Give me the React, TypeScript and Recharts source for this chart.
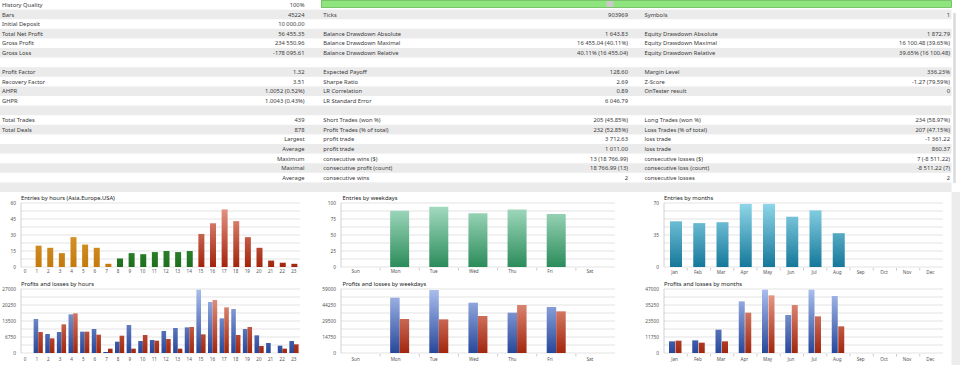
import React from 'react';
import { BarChart, Bar, XAxis, YAxis, CartesianGrid, Cell } from 'recharts';

const F = '"Noto Sans", "Open Sans", sans-serif';

// ---------- table data ----------
const leftLabels = ['History Quality', 'Bars', 'Initial Deposit', 'Total Net Profit', 'Gross Profit', 'Gross Loss', '', 'Profit Factor', 'Recovery Factor', 'AHPR', 'GHPR', '', 'Total Trades', 'Total Deals', '', '', '', '', '', ''];
const leftValues = ['100%', '45224', '10 000.00', '56 455.35', '234 550.96', '-178 095.61', '', '1.32', '3.51', '1.0052 (0.52%)', '1.0043 (0.43%)', '', '439', '878', 'Largest', 'Average', 'Maximum', 'Maximal', 'Average', ''];
const midLabels = ['', 'Ticks', '', 'Balance Drawdown Absolute', 'Balance Drawdown Maximal', 'Balance Drawdown Relative', '', 'Expected Payoff', 'Sharpe Ratio', 'LR Correlation', 'LR Standard Error', '', 'Short Trades (won %)', 'Profit Trades (% of total)', 'profit trade', 'profit trade', 'consecutive wins ($)', 'consecutive profit (count)', 'consecutive wins', ''];
const midValues = ['', '903969', '', '1 643.83', '16 455.04 (40.11%)', '40.11% (16 455.04)', '', '128.60', '2.69', '0.89', '6 046.79', '', '205 (45.85%)', '232 (52.85%)', '3 712.63', '1 011.00', '13 (18 766.99)', '18 766.99 (13)', '2', ''];
const rightLabels = ['', 'Symbols', '', 'Equity Drawdown Absolute', 'Equity Drawdown Maximal', 'Equity Drawdown Relative', '', 'Margin Level', 'Z-Score', 'OnTester result', '', '', 'Long Trades (won %)', 'Loss Trades (% of total)', 'loss trade', 'loss trade', 'consecutive losses ($)', 'consecutive loss (count)', 'consecutive losses', ''];
const rightValues = ['', '1', '', '1 872.79', '16 100.48 (39.65%)', '39.65% (16 100.48)', '', '336.23%', '-1.27 (79.59%)', '0', '', '', '234 (58.97%)', '207 (47.15%)', '-1 361.22', '860.37', '7 (-8 511.22)', '-8 511.22 (7)', '2', ''];

// ---------- chart data ----------
const hours = ['0', '1', '2', '3', '4', '5', '6', '7', '8', '9', '10', '11', '12', '13', '14', '15', '16', '17', '18', '19', '20', '21', '22', '23'];
const hourEntries = [0, 20, 18, 13, 28, 21, 18, 3, 8, 13, 12, 14, 15, 14, 15, 31, 41, 54, 43, 28, 18, 6, 4, 3];
const hourProfits = [0, 14340, 8010, 8860, 16310, 9000, 10120, 420, 4780, 11810, 5060, 5480, 9280, 10550, 10830, 26710, 21510, 14620, 18560, 10120, 7450, 4220, 3090, 5060];
const hourLosses = [0, 8860, 6190, 12090, 16730, 9000, 7730, 1830, 7310, 1830, 7590, 5200, 5900, 1830, 10970, 7870, 22360, 19260, 7590, 10970, 2950, 0, 1830, 3660];
const hourSession = ['asia', 'asia', 'asia', 'asia', 'asia', 'asia', 'asia', 'asia', 'europe', 'europe', 'europe', 'europe', 'europe', 'europe', 'europe', 'usa', 'usa', 'usa', 'usa', 'usa', 'usa', 'usa', 'usa', 'usa'];

const weekdays = ['Sun', 'Mon', 'Tue', 'Wed', 'Thu', 'Fri', 'Sat'];
const weekdayEntries = [0, 88, 94, 84, 90, 83, 0];
const weekdayProfits = [0, 51010, 58080, 46400, 37180, 42410, 0];
const weekdayLosses = [0, 31340, 31040, 34110, 44250, 38410, 0];

const months = ['Jan', 'Feb', 'Mar', 'Apr', 'May', 'Jun', 'Jul', 'Aug', 'Sep', 'Oct', 'Nov', 'Dec'];
const monthEntries = [50, 48, 49, 69, 69, 55, 62, 37, 0, 0, 0, 0];
const monthProfits = [8570, 9300, 17140, 37940, 46510, 27910, 46510, 41860, 0, 0, 0, 0];
const monthLosses = [9060, 7590, 8570, 29620, 42350, 35250, 26930, 19580, 0, 0, 0, 0];

// axis ticks (gridlines) and their labels
const hourEntryTicks = [0, 7.5, 15, 22.5, 30, 37.5, 45, 52.5, 60];
const hourEntryLabels = ['0', '', '15', '', '30', '', '45', '', '60'];
const hourPLTicks = [0, 3375, 6750, 10125, 13500, 16875, 20250, 23625, 27000];
const hourPLLabels = ['0', '', '6750', '', '13500', '', '20250', '', '27000'];
const dayEntryTicks = [0, 12.5, 25, 37.5, 50, 62.5, 75, 87.5, 100];
const dayEntryLabels = ['0', '', '25', '', '50', '', '75', '', '100'];
const dayPLTicks = [0, 7375, 14750, 22125, 29500, 36875, 44250, 51625, 59000];
const dayPLLabels = ['0', '', '14750', '', '29500', '', '44250', '', '59000'];
const monthEntryTicks = [0, 8.75, 17.5, 26.25, 35, 43.75, 52.5, 61.25, 70];
const monthEntryLabels = ['0', '', '', '', '35', '', '', '', '70'];
const monthPLTicks = [0, 5875, 11750, 17625, 23500, 29375, 35250, 41125, 47000];
const monthPLLabels = ['0', '', '11750', '', '23500', '', '35250', '', '47000'];

const hourEntryData = hours.map((h, i) => ({ name: h, entries: hourEntries[i], session: hourSession[i] }));
const hourPLData = hours.map((h, i) => ({ name: h, profit: hourProfits[i], loss: hourLosses[i] }));
const dayEntryData = weekdays.map((d, i) => ({ name: d, entries: weekdayEntries[i] }));
const dayPLData = weekdays.map((d, i) => ({ name: d, profit: weekdayProfits[i], loss: weekdayLosses[i] }));
const monthEntryData = months.map((m, i) => ({ name: m, entries: monthEntries[i] }));
const monthPLData = months.map((m, i) => ({ name: m, profit: monthProfits[i], loss: monthLosses[i] }));

const GRAD: Record<string, [string, string]> = {
  asia: ['#e6aa48', '#c47a0c'],
  europe: ['#4fb04f', '#1d6e1d'],
  usa: ['#ea9d8d', '#a2240c'],
  day: ['#aadfc6', '#2b8c5a'],
  month: ['#90d7e9', '#15789a'],
  blue: ['#abbfee', '#27479a'],
  red: ['#eca291', '#a2260e'],
};

type SeriesDef = { key: string; grad: string; cellKey?: string };

type ChartDef = {
  id: string;
  left: number; top: number; width: number; height: number;
  mTop: number; mRight: number; yWidth: number; xHeight: number;
  data: any[]; series: SeriesDef[]; barSize: number; barGap: number;
  ticks: number[]; labels: string[];
  xAnchor: 'start' | 'middle'; xDx: number; xDy: number; sep: boolean;
};

function MiniChart(c: ChartDef) {
  const plotTop = c.mTop;
  const plotBottom = c.height - c.xHeight;
  const plotW = c.width - c.yWidth - c.mRight;
  const n = c.data.length;
  const bw = plotW / n;
  const gradIds = Array.from(new Set(c.series.flatMap((s) => (s.cellKey ? c.data.map((d) => d[s.cellKey as string]) : [s.grad]))));
  const yTick = (p: any) => (
    <text x={p.x - 5} y={p.y} textAnchor="end" dominantBaseline="central" fontSize={4.8} fill="#555" fontFamily={F}>
      {c.labels[p.index]}
    </text>
  );
  const xTick = (p: any) => (
    <g>
      <text x={p.x + c.xDx} y={p.y + c.xDy} textAnchor={c.xAnchor} dominantBaseline="central" fontSize={4.6} fill="#555" fontFamily={F}>
        {p.payload.value}
      </text>
      {c.sep && p.index < n - 1 ? (
        <line x1={p.x + bw / 2} x2={p.x + bw / 2} y1={p.y + 1} y2={p.y + 3.5} stroke="#b5b5b5" strokeWidth={0.7} />
      ) : null}
    </g>
  );
  return (
    <div style={{ position: 'absolute', left: c.left, top: c.top }}>
      <BarChart width={c.width} height={c.height} data={c.data} barGap={c.barGap}
        margin={{ top: c.mTop, right: c.mRight, left: 0, bottom: 0 }}>
        <defs>
          {gradIds.map((g) => (
            <linearGradient key={g} id={`${c.id}-${g}`} gradientUnits="userSpaceOnUse" x1={0} x2={0} y1={plotTop} y2={plotBottom}>
              <stop offset="0%" stopColor={GRAD[g][0]} />
              <stop offset="100%" stopColor={GRAD[g][1]} />
            </linearGradient>
          ))}
        </defs>
        <CartesianGrid vertical={false} stroke="#e3e3e3" strokeWidth={1.2} />
        <XAxis dataKey="name" interval={0} tickLine={false} axisLine={false} tickSize={0} tickMargin={0}
          height={c.xHeight} tick={xTick} />
        <YAxis type="number" domain={[0, c.ticks[c.ticks.length - 1]]} ticks={c.ticks} interval={0}
          width={c.yWidth} tickLine={false} tickSize={0} tickMargin={0}
          axisLine={{ stroke: '#c6c6c6', strokeWidth: 0.8 }} tick={yTick} />
        {c.series.map((s) => (
          <Bar key={s.key} dataKey={s.key} barSize={c.barSize} isAnimationActive={false}
            fill={`url(#${c.id}-${s.grad})`}>
            {s.cellKey
              ? c.data.map((d, i) => <Cell key={i} fill={`url(#${c.id}-${d[s.cellKey as string]})`} />)
              : null}
          </Bar>
        ))}
      </BarChart>
    </div>
  );
}

const charts: ChartDef[] = [
  {
    id: 'c1', left: 0, top: 190, width: 305, height: 85, mTop: 13, mRight: 5, yWidth: 21, xHeight: 8,
    data: hourEntryData, series: [{ key: 'entries', grad: 'usa', cellKey: 'session' }], barSize: 6, barGap: 0,
    ticks: hourEntryTicks, labels: hourEntryLabels, xAnchor: 'start', xDx: -3, xDy: 4, sep: false,
  },
  {
    id: 'c2', left: 0, top: 275, width: 305, height: 90, mTop: 14, mRight: 5, yWidth: 21, xHeight: 12,
    data: hourPLData, series: [{ key: 'profit', grad: 'blue' }, { key: 'loss', grad: 'red' }], barSize: 4.6, barGap: 0,
    ticks: hourPLTicks, labels: hourPLLabels, xAnchor: 'start', xDx: -3, xDy: 6, sep: false,
  },
  {
    id: 'c3', left: 320, top: 190, width: 300, height: 85, mTop: 13, mRight: 5, yWidth: 21, xHeight: 8,
    data: dayEntryData, series: [{ key: 'entries', grad: 'day' }], barSize: 19, barGap: 0,
    ticks: dayEntryTicks, labels: dayEntryLabels, xAnchor: 'start', xDx: -9, xDy: 4, sep: true,
  },
  {
    id: 'c4', left: 320, top: 275, width: 300, height: 90, mTop: 14, mRight: 5, yWidth: 21, xHeight: 12,
    data: dayPLData, series: [{ key: 'profit', grad: 'blue' }, { key: 'loss', grad: 'red' }], barSize: 9.5, barGap: 0,
    ticks: dayPLTicks, labels: dayPLLabels, xAnchor: 'start', xDx: -9, xDy: 6, sep: true,
  },
  {
    id: 'c5', left: 640, top: 190, width: 305, height: 85, mTop: 13, mRight: 2, yWidth: 24, xHeight: 8,
    data: monthEntryData, series: [{ key: 'entries', grad: 'month' }], barSize: 12, barGap: 0,
    ticks: monthEntryTicks, labels: monthEntryLabels, xAnchor: 'middle', xDx: -1, xDy: 4.5, sep: true,
  },
  {
    id: 'c6', left: 640, top: 275, width: 305, height: 90, mTop: 14, mRight: 2, yWidth: 24, xHeight: 12,
    data: monthPLData, series: [{ key: 'profit', grad: 'blue' }, { key: 'loss', grad: 'red' }], barSize: 6, barGap: 0.5,
    ticks: monthPLTicks, labels: monthPLLabels, xAnchor: 'middle', xDx: -1, xDy: 6, sep: true,
  },
];

const titles = [
  { text: 'Entries by hours (Asia,Europe,USA)', x: 21, y: 199.5 },
  { text: 'Profits and losses by hours', x: 21, y: 285.5 },
  { text: 'Entries by weekdays', x: 342.5, y: 200 },
  { text: 'Profits and losses by weekdays', x: 342.5, y: 286 },
  { text: 'Entries by months', x: 664, y: 200 },
  { text: 'Profits and losses by months', x: 664, y: 286 },
];

const ROW = 9.6;
const TXT = '#3a3a3a';

function Background() {
  const fs = 5.8;
  return (
    <svg width={960} height={365} style={{ position: 'absolute', left: 0, top: 0 }}>
      <rect x={0} y={0} width={960} height={365} fill="#ffffff" />
      {leftLabels.map((_, i) =>
        i % 2 === 1 ? <rect key={'r' + i} x={0} y={i * ROW} width={951.5} height={ROW} fill="#ebebeb" /> : null
      )}
      <rect x={951.5} y={192} width={8.5} height={173} fill="#ececec" />
      <rect x={953.3} y={13} width={2.4} height={170} fill="#d9d9d9" />
      {/* history quality bar */}
      <rect x={321.5} y={0.6} width={630} height={6.8} fill="#8fe57d" stroke="#64b853" strokeWidth={0.8} />
      <rect x={606.5} y={1} width={7} height={6} fill="#c9c9c9" />
      {leftLabels.map((_, i) => {
        const y = 5 + i * ROW + 2;
        return (
          <g key={'t' + i} fontFamily={F} fontSize={fs} fill={TXT}>
            <text x={2} y={y}>{leftLabels[i]}</text>
            <text x={304.5} y={y} textAnchor="end">{leftValues[i]}</text>
            <text x={323.3} y={y}>{midLabels[i]}</text>
            <text x={628} y={y} textAnchor="end">{midValues[i]}</text>
            <text x={644.5} y={y}>{rightLabels[i]}</text>
            <text x={950} y={y} textAnchor="end">{rightValues[i]}</text>
          </g>
        );
      })}
      {titles.map((t) => (
        <text key={t.text} x={t.x} y={t.y} fontFamily={F} fontSize={5.8} fill="#222">{t.text}</text>
      ))}
    </svg>
  );
}

export default function App() {
  return (
    <div style={{ position: 'absolute', left: 0, top: 0, width: 960, height: 365, background: '#fff', overflow: 'hidden' }}>
      <Background />
      {charts.map((c) => (
        <MiniChart key={c.id} {...c} />
      ))}
    </div>
  );
}
